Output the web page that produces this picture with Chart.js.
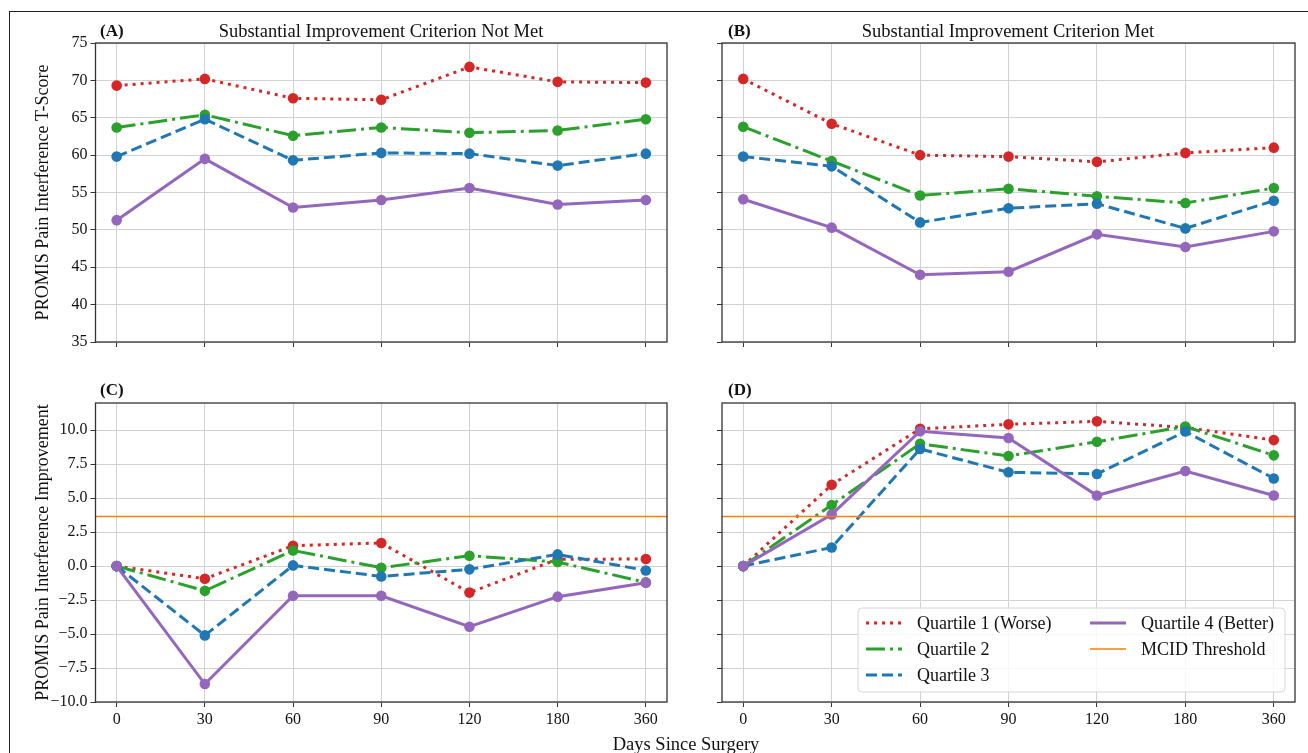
<!DOCTYPE html>
<html>
<head>
<meta charset="utf-8">
<title>PROMIS Pain Interference by Quartile</title>
<script src="https://cdn.jsdelivr.net/npm/chart.js@4.4.0/dist/chart.umd.min.js"></script>
<style>
    body { margin: 0; background: #fff; width: 1308px; height: 753px; overflow: hidden; position: relative; font-family: 'Liberation Serif', 'Times New Roman', serif; color: #111; }
    .frame { position: absolute; left: 9px; top: 11px; width: 1400px; height: 800px; border-left: 1.5px solid #222; border-top: 1.5px solid #222; }
    canvas { position: absolute; }
    .lbl { position: absolute; font-weight: bold; font-size: 17px; line-height: 20px; white-space: nowrap; }
    .ttl { position: absolute; font-size: 18.5px; line-height: 20px; white-space: nowrap; transform: translateX(-50%); }
</style>
</head>
<body>
<div class="frame"></div>

<canvas id="chartA" width="680" height="370" style="left:10px; top:0px;"></canvas>
<canvas id="chartB" width="618" height="370" style="left:690px; top:0px;"></canvas>
<canvas id="chartC" width="680" height="393" style="left:10px; top:360px;"></canvas>
<canvas id="chartD" width="618" height="393" style="left:690px; top:360px;"></canvas>

<div class="lbl" style="left:100px; top:21px;">(A)</div>
<div class="ttl" style="left:381px; top:21px;">Substantial Improvement Criterion Not Met</div>
<div class="lbl" style="left:728px; top:21px;">(B)</div>
<div class="ttl" style="left:1008px; top:21px;">Substantial Improvement Criterion Met</div>
<div class="lbl" style="left:100px; top:380px;">(C)</div>
<div class="lbl" style="left:728px; top:380px;">(D)</div>
<div class="ttl" style="left:686px; top:734px;">Days Since Surgery</div>

<script>
// --- Datos ---
const days = ['0', '30', '60', '90', '120', '180', '360'];
const quartileNames = ['Quartile 1 (Worse)', 'Quartile 2', 'Quartile 3', 'Quartile 4 (Better)'];
const mcidLabel = 'MCID Threshold';
const mcidValue = 3.65;

// (A) T-score, criterio no cumplido
const notMetQ1 = [69.3, 70.2, 67.6, 67.4, 71.8, 69.8, 69.7];
const notMetQ2 = [63.7, 65.4, 62.6, 63.7, 63.0, 63.3, 64.8];
const notMetQ3 = [59.8, 64.8, 59.3, 60.3, 60.2, 58.6, 60.2];
const notMetQ4 = [51.3, 59.5, 53.0, 54.0, 55.6, 53.4, 54.0];

// (B) T-score, criterio cumplido
const metQ1 = [70.2, 64.2, 60.0, 59.8, 59.1, 60.3, 61.0];
const metQ2 = [63.8, 59.2, 54.6, 55.5, 54.5, 53.6, 55.6];
const metQ3 = [59.8, 58.5, 51.0, 52.9, 53.5, 50.2, 53.9];
const metQ4 = [54.1, 50.3, 44.0, 44.4, 49.4, 47.7, 49.8];

// (C) Mejora, criterio no cumplido
const notMetImpQ1 = [0, -0.93, 1.5, 1.7, -1.95, 0.5, 0.52];
const notMetImpQ2 = [0, -1.82, 1.15, -0.12, 0.76, 0.3, -1.2];
const notMetImpQ3 = [0, -5.1, 0.05, -0.76, -0.24, 0.86, -0.32];
const notMetImpQ4 = [0, -8.68, -2.18, -2.18, -4.46, -2.25, -1.22];

// (D) Mejora, criterio cumplido
const metImpQ1 = [0, 5.98, 10.1, 10.43, 10.65, 10.2, 9.27];
const metImpQ2 = [0, 4.5, 9.0, 8.1, 9.15, 10.27, 8.15];
const metImpQ3 = [0, 1.37, 8.62, 6.9, 6.78, 9.9, 6.45];
const metImpQ4 = [0, 3.8, 9.92, 9.43, 5.19, 7.0, 5.19];

// --- Estilos ---
const FONT = "'Liberation Serif', 'Times New Roman', serif";
const styles = [
    { color: '#d62728', dash: [3, 5] },          // punteado
    { color: '#2ca02c', dash: [19, 5, 3, 5] },   // punto y raya
    { color: '#1f77b4', dash: [11, 5] },         // rayas
    { color: '#9467bd', dash: [] }               // continua
];
const mcidColor = '#ff7f0e';

function buildDatasets(seriesList) {
    return seriesList.map((values, i) => ({
        label: quartileNames[i],
        data: values.map((v, idx) => ({ x: idx, y: v })),
        borderColor: styles[i].color,
        backgroundColor: styles[i].color,
        borderDash: styles[i].dash,
        borderWidth: 3,
        borderCapStyle: 'butt',
        pointRadius: 5.3,
        pointBorderWidth: 0,
        pointBackgroundColor: styles[i].color,
        tension: 0,
        order: 4 - i // Q4 arriba
    }));
}

// Marco completo alrededor del área del gráfico
const framePlugin = {
    id: 'frame',
    afterDraw(chart) {
        const { ctx, chartArea: a } = chart;
        ctx.save();
        ctx.strokeStyle = '#333';
        ctx.lineWidth = 1.3;
        ctx.strokeRect(a.left, a.top, a.right - a.left, a.bottom - a.top);
        ctx.restore();
    }
};

// Línea horizontal del umbral MCID
const mcidPlugin = {
    id: 'mcid',
    afterDatasetsDraw(chart, args, opts) {
        if (!opts.show) return;
        const { ctx, chartArea: a, scales } = chart;
        const y = scales.y.getPixelForValue(mcidValue);
        ctx.save();
        ctx.strokeStyle = mcidColor;
        ctx.lineWidth = 1.5;
        ctx.beginPath();
        ctx.moveTo(a.left, y);
        ctx.lineTo(a.right, y);
        ctx.stroke();
        ctx.restore();
    }
};

// Leyenda en dos columnas dentro del panel D
const legendPlugin = {
    id: 'quartLegend',
    afterDraw(chart, args, opts) {
        if (!opts.show) return;
        const { ctx, chartArea: a } = chart;
        const items = chart.data.datasets.map(d => ({ label: d.label, color: d.borderColor, dash: d.borderDash, width: 3 }));
        items.push({ label: mcidLabel, color: mcidColor, dash: [], width: 1.5 });
        const w = 427, h = 84;
        const x0 = a.right - 10 - w, y0 = a.bottom - 10 - h;
        ctx.save();
        ctx.beginPath();
        ctx.roundRect(x0, y0, w, h, 4);
        ctx.fillStyle = 'rgba(255,255,255,0.85)';
        ctx.fill();
        ctx.strokeStyle = '#d6d6d6';
        ctx.lineWidth = 1;
        ctx.stroke();
        ctx.font = '18px ' + FONT;
        ctx.textBaseline = 'middle';
        items.forEach((it, i) => {
            const col = Math.floor(i / 3), row = i % 3;
            const lx = x0 + (col ? 232 : 8);
            const ly = y0 + 15 + row * 26;
            ctx.strokeStyle = it.color;
            ctx.lineWidth = it.width;
            ctx.lineCap = 'butt';
            ctx.setLineDash(it.dash);
            ctx.beginPath();
            ctx.moveTo(lx, ly);
            ctx.lineTo(lx + 36, ly);
            ctx.stroke();
            ctx.setLineDash([]);
            ctx.fillStyle = '#111';
            ctx.fillText(it.label, lx + 51, ly + 1);
        });
        ctx.restore();
    }
};

function makeChart(id, cfg) {
    const ctx = document.getElementById(id).getContext('2d');
    return new Chart(ctx, {
        type: 'line',
        data: { datasets: buildDatasets(cfg.series) },
        options: {
            responsive: false,
            animation: false,
            devicePixelRatio: 1,
            layout: { padding: { top: 43, right: cfg.padRight, left: 0, bottom: 0 } },
            plugins: {
                legend: { display: false },
                tooltip: { enabled: false },
                mcid: { show: !!cfg.mcid },
                quartLegend: { show: !!cfg.legend }
            },
            scales: {
                x: {
                    type: 'linear',
                    min: -0.24,
                    max: days.length - 1 + 0.24,
                    afterBuildTicks: s => { s.ticks = days.map((d, i) => ({ value: i })); },
                    afterFit: s => { s.height = cfg.xHeight; },
                    ticks: {
                        display: cfg.showX,
                        callback: (v, idx) => days[idx],
                        font: { family: FONT, size: 16 },
                        color: '#111',
                        padding: 3,
                        autoSkip: false,
                        maxRotation: 0
                    },
                    grid: { color: '#d2d2d2', lineWidth: 1, tickColor: '#333', tickLength: 5 },
                    border: { display: false }
                },
                y: {
                    min: cfg.yMin,
                    max: cfg.yMax,
                    afterFit: s => { s.width = cfg.yWidth; },
                    ticks: {
                        display: cfg.showY,
                        stepSize: cfg.yStep,
                        includeBounds: false,
                        callback: cfg.yFormat,
                        font: { family: FONT, size: 16 },
                        color: '#111',
                        padding: 3
                    },
                    grid: { color: '#d2d2d2', lineWidth: 1, tickColor: '#333', tickLength: 5 },
                    border: { display: false },
                    title: {
                        display: !!cfg.yTitle,
                        text: cfg.yTitle || '',
                        font: { family: FONT, size: 18 },
                        color: '#111',
                        padding: { top: 22.5, bottom: 0 }
                    }
                }
            }
        },
        plugins: [framePlugin, mcidPlugin, legendPlugin]
    });
}

const fmtInt = v => String(v);
const fmtDec = v => (v < 0 ? '\u2212' : '') + Math.abs(v).toFixed(1);

document.addEventListener('DOMContentLoaded', () => {
    makeChart('chartA', {
        series: [notMetQ1, notMetQ2, notMetQ3, notMetQ4],
        yMin: 35, yMax: 75, yStep: 5, yFormat: fmtInt,
        showY: true, showX: false, yTitle: 'PROMIS Pain Interference T-Score',
        yWidth: 85.5, xHeight: 28, padRight: 23
    });
    makeChart('chartB', {
        series: [metQ1, metQ2, metQ3, metQ4],
        yMin: 35, yMax: 75, yStep: 5, yFormat: fmtInt,
        showY: false, showX: false,
        yWidth: 32, xHeight: 28, padRight: 13
    });
    makeChart('chartC', {
        series: [notMetImpQ1, notMetImpQ2, notMetImpQ3, notMetImpQ4],
        yMin: -10, yMax: 12, yStep: 2.5, yFormat: fmtDec,
        showY: true, showX: true, yTitle: 'PROMIS Pain Interference Improvement',
        yWidth: 85.5, xHeight: 51, padRight: 23, mcid: true
    });
    makeChart('chartD', {
        series: [metImpQ1, metImpQ2, metImpQ3, metImpQ4],
        yMin: -10, yMax: 12, yStep: 2.5, yFormat: fmtDec,
        showY: false, showX: true,
        yWidth: 32, xHeight: 51, padRight: 13, mcid: true, legend: true
    });
});
</script>
</body>
</html>
